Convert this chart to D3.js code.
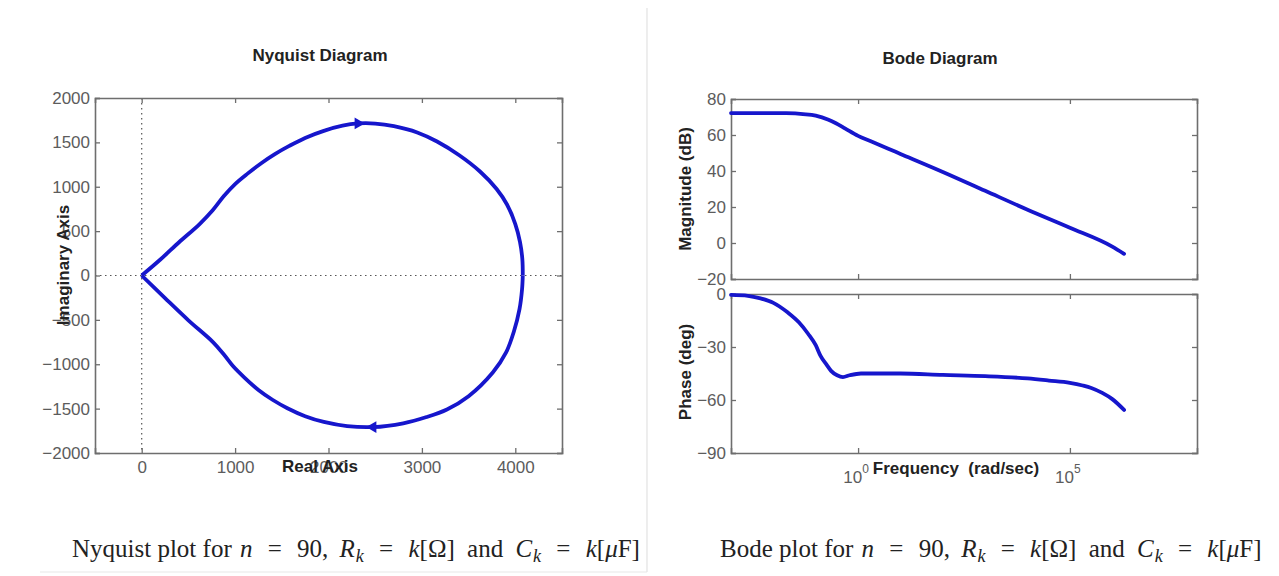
<!DOCTYPE html>
<html>
<head>
<meta charset="utf-8">
<script src="https://cdn.jsdelivr.net/npm/d3@7"></script>
<style>
  body { margin: 0; background: #fff; }
  svg { display: block; }
  .tick text { font-family: "Liberation Sans", Arial, sans-serif; font-size: 17px; fill: #5c5c5c; }
  .lbl { font-family: "Liberation Sans", Arial, sans-serif; font-size: 17px; font-weight: bold; fill: #222; white-space: pre; }
  .cap { font-family: "Liberation Serif", "Times New Roman", serif; font-size: 25px; fill: #222; white-space: pre; }
  .cap .m { font-style: italic; }
</style>
</head>
<body>
<svg id="chart" width="1279" height="576"></svg>
<script>
// ---- data ----
// nyquist, upper half (origin -> rightmost point)
var nyqUpRe = [0, 200, 400, 620, 760, 880, 1000, 1130, 1280, 1430, 1580, 1750, 1950, 2150, 2316, 2500, 2700, 2950, 3162, 3400, 3622, 3800, 3911, 4000, 4050, 4075, 4080];
var nyqUpIm = [0, 180, 375, 580, 735, 895, 1030, 1145, 1265, 1370, 1460, 1550, 1630, 1688, 1713, 1712, 1683, 1612, 1510, 1355, 1172, 975, 800, 580, 380, 190, 0];
// nyquist, lower half (origin -> rightmost point)
var nyqLoRe = [0, 250, 500, 763, 880, 977, 1100, 1250, 1400, 1560, 1750, 1950, 2200, 2476, 2800, 3050, 3268, 3500, 3761, 3900, 3985, 4045, 4072, 4080];
var nyqLoIm = [0, -255, -505, -750, -890, -1020, -1150, -1290, -1400, -1495, -1585, -1650, -1697, -1708, -1665, -1595, -1510, -1360, -1090, -870, -631, -380, -160, 0];
// direction arrows: position and pointing (1 = right, -1 = left)
var arrowRe = [2316, 2476];
var arrowIm = [1713, -1708];
var arrowDir = [1, -1];

var nyqXTicks = [0, 1000, 2000, 3000, 4000];
var nyqYTicks = [-2000, -1500, -1000, -500, 0, 500, 1000, 1500, 2000];

// bode magnitude
var magFreq = [0.001, 0.01, 0.02, 0.05, 0.1, 0.2, 0.3, 0.5, 1, 2, 5, 10, 100, 1000, 1e4, 1e5, 1e6, 1.9e6];
var magDb   = [72.2, 72.2, 72.1, 71.6, 70.8, 68.5, 66.5, 63.5, 59.5, 56.5, 52.5, 49.5, 39.5, 29, 18.5, 8.5, -2, -6];
// bode phase
var phFreq = [0.001, 0.0025, 0.005, 0.01, 0.022, 0.04, 0.066, 0.1, 0.13, 0.18, 0.23, 0.32, 0.44, 0.63, 1.17, 10, 100, 1000, 1e4, 3.2e4, 1e5, 2e5, 3.2e5, 5.8e5, 1e6, 1.9e6];
var phDeg  = [-0.5, -1, -2.5, -5, -10.5, -16, -22.5, -29, -35, -40, -43.5, -46, -47, -46, -45, -45, -45.8, -46.5, -47.8, -49, -50.3, -51.8, -53.2, -56, -59.5, -65.6];

var magTicks = [-20, 0, 20, 40, 60, 80];
var phTicks = [-90, -60, -30, 0];
var freqTicks = [1, 1e5];
var freqTickExp = ["0", "5"];

var svg = d3.select("#chart");
var blue = "#1616cc";
var boxColor = "#6e6e6e";

// light frame round the left panel
svg.append("line").attr("x1", 647).attr("x2", 647).attr("y1", 8).attr("y2", 572)
    .attr("stroke", "#e2e2e2").attr("stroke-width", 1.2);
svg.append("line").attr("x1", 40).attr("x2", 647).attr("y1", 572).attr("y2", 572)
    .attr("stroke", "#e8e8e8").attr("stroke-width", 1.2);

// box with inward ticks on all four sides
function box(g, x, y, xTicks, yTicks, showX, showY) {
    var r = x.range(), t = y.range();
    var fmt = d3.format("");
    g.append("g").attr("transform", "translate(0," + t[0] + ")")
        .call(d3.axisBottom(x).tickValues(xTicks).tickSize(-5).tickPadding(8)
            .tickFormat(showX ? fmt : ""));
    g.append("g").attr("transform", "translate(0," + t[1] + ")")
        .call(d3.axisTop(x).tickValues(xTicks).tickSize(-5).tickFormat(""));
    g.append("g").attr("transform", "translate(" + r[0] + ",0)")
        .call(d3.axisLeft(y).tickValues(yTicks).tickSize(-5).tickPadding(5)
            .tickFormat(showY ? fmt : ""));
    g.append("g").attr("transform", "translate(" + r[1] + ",0)")
        .call(d3.axisRight(y).tickValues(yTicks).tickSize(-5).tickFormat(""));
    g.selectAll(".domain").attr("stroke", boxColor).attr("stroke-width", 1.6);
    g.selectAll(".tick line").attr("stroke", boxColor).attr("stroke-width", 1.3);
}

// ---------------- Nyquist ----------------
var nx = d3.scaleLinear().domain([-500, 4500]).range([95, 562]);
var ny = d3.scaleLinear().domain([-2000, 2000]).range([453, 98]);
var gN = svg.append("g");

gN.append("line").attr("x1", nx(0)).attr("x2", nx(0)).attr("y1", ny(2000)).attr("y2", ny(-2000))
    .attr("stroke", "#555").attr("stroke-width", 1.2).attr("stroke-dasharray", "1.5,3.5");
gN.append("line").attr("x1", nx(-500)).attr("x2", nx(4500)).attr("y1", ny(0)).attr("y2", ny(0))
    .attr("stroke", "#555").attr("stroke-width", 1.2).attr("stroke-dasharray", "1.5,3.5");

box(gN, nx, ny, nyqXTicks, nyqYTicks, true, true);

var nline = d3.line().x(function(d) { return nx(d[0]); }).y(function(d) { return ny(d[1]); })
    .curve(d3.curveCatmullRom);
gN.append("path").datum(d3.zip(nyqUpRe, nyqUpIm)).attr("d", nline)
    .attr("fill", "none").attr("stroke", blue).attr("stroke-width", 3.8);
gN.append("path").datum(d3.zip(nyqLoRe, nyqLoIm)).attr("d", nline)
    .attr("fill", "none").attr("stroke", blue).attr("stroke-width", 3.8);

var tri = d3.symbol().type(d3.symbolTriangle).size(60);
arrowRe.forEach(function(re, i) {
    gN.append("path").attr("d", tri)
        .attr("transform", "translate(" + nx(re) + "," + ny(arrowIm[i]) + ") rotate(" + (arrowDir[i] > 0 ? 90 : -90) + ")")
        .attr("fill", blue);
});

svg.append("text").attr("class", "lbl").attr("x", 320).attr("y", 61).attr("text-anchor", "middle").text("Nyquist Diagram");
svg.append("text").attr("class", "lbl").attr("x", 320).attr("y", 472).attr("text-anchor", "middle").text("Real Axis");
svg.append("text").attr("class", "lbl").attr("text-anchor", "middle")
    .attr("transform", "translate(69,265) rotate(-90)").text("Imaginary Axis");

// ---------------- Bode ----------------
var bx = d3.scaleLog().domain([1e-3, 1e8]).range([731, 1197]);
var my = d3.scaleLinear().domain([-20, 80]).range([279, 99]);
var py = d3.scaleLinear().domain([-90, 0]).range([453, 294]);

var gM = svg.append("g");
box(gM, bx, my, freqTicks, magTicks, false, true);
var gP = svg.append("g");
box(gP, bx, py, freqTicks, phTicks, false, true);

gM.append("path").datum(d3.zip(magFreq, magDb))
    .attr("d", d3.line().x(function(d) { return bx(d[0]); }).y(function(d) { return my(d[1]); }).curve(d3.curveMonotoneX))
    .attr("fill", "none").attr("stroke", blue).attr("stroke-width", 3.8).attr("stroke-linecap", "round");
gP.append("path").datum(d3.zip(phFreq, phDeg))
    .attr("d", d3.line().x(function(d) { return bx(d[0]); }).y(function(d) { return py(d[1]); }).curve(d3.curveMonotoneX))
    .attr("fill", "none").attr("stroke", blue).attr("stroke-width", 3.8).attr("stroke-linecap", "round");

// 10^n tick labels under the phase axes
freqTicks.forEach(function(f, i) {
    var t = gP.append("text").attr("x", bx(f) - 2).attr("y", 483).attr("text-anchor", "middle")
        .style("font-family", "'Liberation Sans', Arial, sans-serif").style("font-size", "17px").style("fill", "#5c5c5c");
    t.append("tspan").text("10");
    t.append("tspan").attr("dy", -10).style("font-size", "12px").text(freqTickExp[i]);
});

svg.append("text").attr("class", "lbl").attr("x", 956).attr("y", 474).attr("text-anchor", "middle").text("Frequency  (rad/sec)");
svg.append("text").attr("class", "lbl").attr("x", 940).attr("y", 64).attr("text-anchor", "middle").text("Bode Diagram");
svg.append("text").attr("class", "lbl").attr("text-anchor", "middle")
    .attr("transform", "translate(691,189) rotate(-90)").text("Magnitude (dB)");
svg.append("text").attr("class", "lbl").attr("text-anchor", "middle")
    .attr("transform", "translate(691,372) rotate(-90)").text("Phase (deg)");

// ---------------- captions (LaTeX-like math spacing) ----------------
function caption(x, lead) {
    var t = svg.append("text").attr("class", "cap").attr("x", x).attr("y", 557);
    function eq(dy) {
        t.append("tspan").attr("dx", 9).attr("dy", dy).text(" = ");
        return t.append("tspan").attr("dx", 9);
    }
    t.append("tspan").text(lead + " for ");
    t.append("tspan").attr("class", "m").attr("dx", 2).text("n");
    eq(0).text("90, ");
    t.append("tspan").attr("class", "m").attr("dx", 5).text("R");
    t.append("tspan").attr("class", "m").attr("dx", 1).attr("dy", 5).style("font-size", "18px").text("k");
    eq(-5).attr("class", "m").text("k");
    t.append("tspan").text("[Ω]");
    t.append("tspan").attr("dx", 6).text(" and ");
    t.append("tspan").attr("class", "m").attr("dx", 6).text("C");
    t.append("tspan").attr("class", "m").attr("dx", 1).attr("dy", 5).style("font-size", "18px").text("k");
    eq(-5).attr("class", "m").text("k");
    t.append("tspan").text("[");
    t.append("tspan").attr("class", "m").text("μ");
    t.append("tspan").text("F]");
}
caption(72, "Nyquist plot");
caption(720, "Bode plot");
</script>
</body>
</html>
